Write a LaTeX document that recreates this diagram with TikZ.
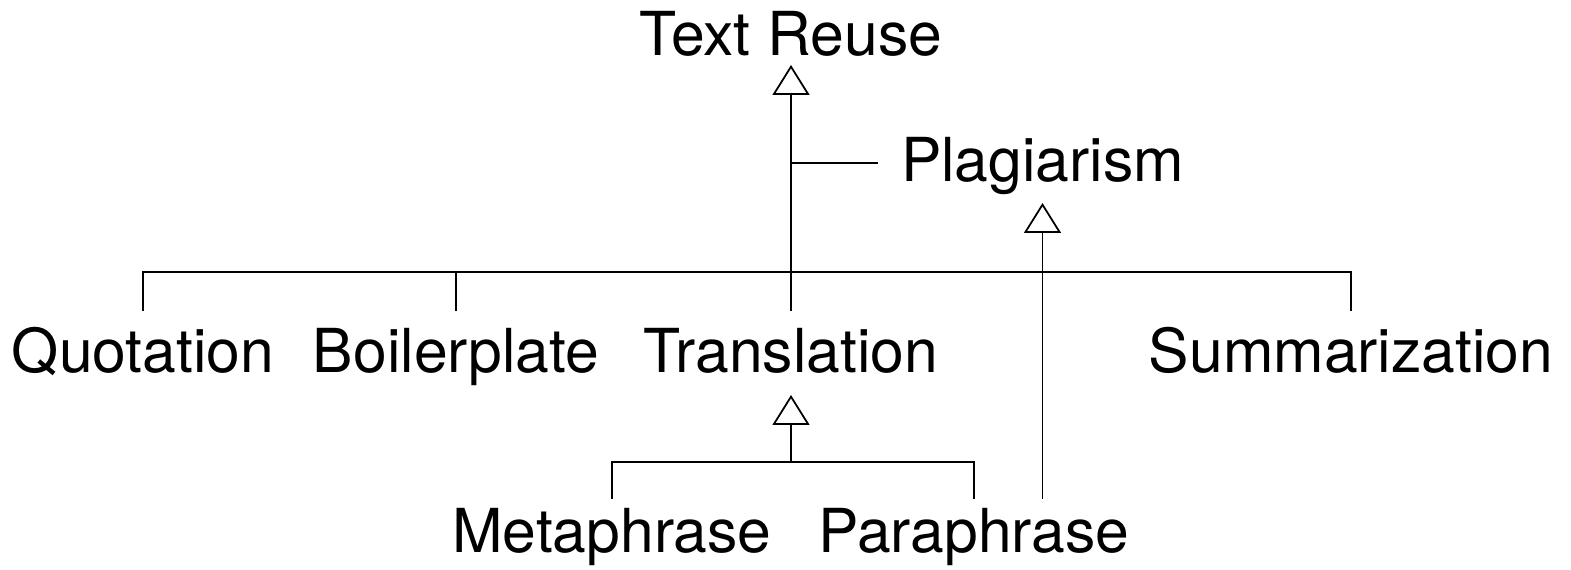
\documentclass[tikz,border=0pt]{standalone}
\usepackage{fontspec}
\setmainfont{TeX Gyre Heros}
\usepackage{tikz}
\usetikzlibrary{arrows.meta}

\tikzset{
	term/.style={inner sep=0pt, anchor=base, font=\fontsize{34.5}{40}\selectfont},
	link/.style={line width=1pt},
	isa/.style={line width=1pt, -{Triangle[open, length=0.6cm, width=0.74cm]}},
}

\begin{document}
\begin{tikzpicture}
					\useasboundingbox (0,0) rectangle (31.42,11.4);
					\coordinate (hub) at (15.82,5.96);
					\coordinate (sub) at (15.82,2.16);
					\coordinate (tap) at (15.82,8.14);
					
					\node[term] (reuse) at (15.82,10.28) {Text Reuse};
					\node[term] (plag) at (20.85,7.76) {Plagiarism};
					\node[term] (quot) at (2.86,3.94) {Quotation};
					\node[term] (boil) at (9.12,3.94) {Boilerplate};
					\node[term] (trans) at (15.82,3.94) {Translation};
					\node[term] (summ) at (27.02,3.94) {Summarization};
					\node[term] (meta) at (12.24,0.34) {Metaphrase};
					\node[term] (para) at (19.48,0.34) {Paraphrase};
					
					% upper level
					\draw[isa] ([yshift=1.24cm]trans.base) -- ([yshift=-0.18cm]reuse.base);
					\draw[link] ([yshift=1.24cm]quot.base) |- (hub) -| ([yshift=1.24cm]summ.base);
					\draw[link] ([yshift=1.24cm]boil.base) -- (boil.base |- hub);
					\draw[link, shorten >=0.46cm] (tap) -- (tap -| plag.west);
					
					% lower level
					\path ([yshift=1.08cm]para.base) coordinate (paratop);
					\draw[isa] (sub) -- ([yshift=-0.44cm]trans.base);
					\draw[link] ([yshift=1.08cm]meta.base) |- (sub) -| (paratop);
					\draw[isa] (plag.base |- paratop) -- ([yshift=-0.42cm]plag.base);
				\end{tikzpicture}
\end{document}
